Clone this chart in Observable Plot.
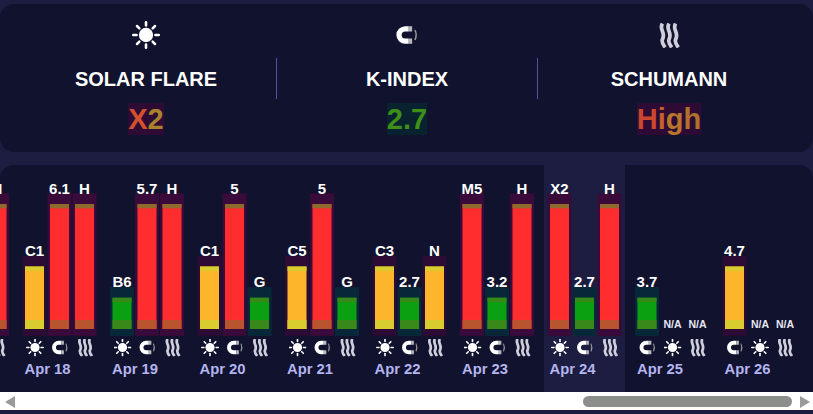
<!DOCTYPE html>
<html><head><meta charset="utf-8">
<script src="https://cdn.jsdelivr.net/npm/d3@7"></script>
<script src="https://cdn.jsdelivr.net/npm/@observablehq/plot@0.6"></script>
<style>
html,body{margin:0;padding:0;width:813px;height:414px;overflow:hidden;background:#1d1d42;font-family:"Liberation Sans",Arial,sans-serif}
#top{position:absolute;left:0;top:4px;width:813px;height:148px;background:#10122e;border-radius:14px}
.col{position:absolute;top:0;width:260px;text-align:center;color:#fff}
.col img{position:absolute;left:110px;width:40px;object-fit:contain}
.col .name{position:absolute;left:0;right:0;top:63px;font-size:20px;font-weight:700;line-height:24px;white-space:nowrap}
.col .val{position:absolute;left:0;right:0;top:99px;font-size:29px;font-weight:700;line-height:33px;white-space:nowrap}
.col .val span{background:var(--halo)}
.div{position:absolute;top:54px;width:1px;height:41px;background:#4f53a0}
#chart{position:absolute;left:0;top:165px;width:813px;height:227px;background:#10122e;border-radius:14px 14px 0 0;overflow:hidden}
#chart svg{display:block;overflow:hidden}
#bar{position:absolute;left:0;top:392px;width:813px;height:18px;background:#fff}
#thumb{position:absolute;left:583px;top:4px;width:209px;height:11px;border-radius:6px;background:#8c8e8c}
.arr{position:absolute;top:4px;width:0;height:0;border-top:6px solid transparent;border-bottom:6px solid transparent}
</style></head><body>
<div id="top"></div><div id="chart"></div>
<div id="bar"><div class="arr" style="left:5px;border-right:10px solid #9a9a9a"></div><div id="thumb"></div><div class="arr" style="left:800px;border-left:10px solid #9a9a9a"></div></div>
<script>
const days = ["Apr 17","Apr 18","Apr 19","Apr 20","Apr 21","Apr 22","Apr 23","Apr 24","Apr 25","Apr 26"];
const solarLabels = [null,"C1","B6","C1","C5","C3","M5","X2","N/A","N/A"];
const solarLevels = [null,2,1,2,2,2,4,4,0,0];
const solarSlots  = [0,0,0,0,0,0,0,0,1,1];
const kLabels = [null,"6.1","5.7","5","5","2.7","3.2","2.7","3.7","4.7"];
const kLevels = [null,4,4,4,4,1,1,1,1,2];
const kSlots  = [1,1,1,1,1,1,1,1,0,0];
const schumannLabels = ["H","H","H","G","G","N","H","H","N/A","N/A"];
const schumannLevels = [4,4,4,1,1,2,4,4,0,0];
const headerNames = ["SOLAR FLARE","K-INDEX","SCHUMANN"];
const headerIcons = ["sun","magnet","waves"];
const headerIconHeights = [28, 20, 25];
const highlightDay = "Apr 24";

const levelFill = {1:"#0aa012",2:"#fdb52b",4:"#ff2d2d"};
const capTop = {1:"#38881a",2:"#d8cc2e",4:"#8f6a2d"};
const capBottom = {1:"#38881a",2:"#d8cc2e",4:"#b9552e"};
const halo = {1:"#08283a",2:"#2c0b35",4:"#3a0a3a"};

const svgUri = s => "data:image/svg+xml," + encodeURIComponent(s);
const rays = d3.range(8).map(i => `<line x1="12" y1="2" x2="12" y2="4.6" transform="rotate(${i*45} 12 12)"/>`).join("");
const icons = {
  sun: svgUri(`<svg xmlns="http://www.w3.org/2000/svg" viewBox="1 1 22 22"><circle cx="12" cy="12" r="5.6" fill="#fff"/><g stroke="#fff" stroke-width="2" stroke-linecap="round">${rays}</g></svg>`),
  magnet: svgUri(`<svg xmlns="http://www.w3.org/2000/svg" viewBox="2 3 21 18"><path d="M14 6.500L11 6.500A5.500 5.500 0 0 0 11 17.500L14 17.500" fill="none" stroke="#fff" stroke-width="4.6"/><path d="M14 6.500L17 6.500M14 17.500L17 17.500" stroke="#b8b8c0" stroke-width="4.600"/><path d="M19.500 7.500Q21.500 12 19.500 16.500" fill="none" stroke="#999" stroke-width="1.300"/></svg>`),
  waves: svgUri(`<svg xmlns="http://www.w3.org/2000/svg" viewBox="2 1 20 22"><g fill="none" stroke="#cfcfdc" stroke-width="3.4"><path d="M6 1.500C2.500 7 9.500 9 6 15.500C5 18 7 20.500 8.500 22.500"/><path d="M12 1.500C8.500 7 15.500 9 12 15.500C11 18 13 20.500 14.500 22.500"/><path d="M18 1.500C14.500 7 21.500 9 18 15.500C17 18 19 20.500 20.500 22.500"/></g></svg>`)
};

function rows(kind, labels, levels, slots) {
  return days.map((day, i) => ({day, d: i, kind, label: labels[i], level: levels[i],
    pos: i * 3.5 + (typeof slots === "number" ? slots : slots[i])})).filter(r => r.label !== null);
}
const data = [
  ...rows("sun", solarLabels, solarLevels, solarSlots),
  ...rows("magnet", kLabels, kLevels, kSlots),
  ...rows("waves", schumannLabels, schumannLevels, 2)
];
const bars = data.filter(r => r.level > 0);
const W = 0.76;
const font = "Liberation Sans";

const chart = Plot.plot({
  width: 813, height: 227,
  marginTop: 0, marginBottom: 0, marginLeft: 0, marginRight: 0,
  style: {background: "transparent", fontFamily: font},
  x: {type: "linear", domain: [2.5, 35.02], range: [0, 813], axis: null},
  y: {type: "linear", domain: [0, 4], range: [164, 39], axis: null},
  color: {type: "identity"},
  marks: [
    Plot.rect(days.filter(d => d === highlightDay), {
      x1: d => days.indexOf(d) * 3.5 - 0.24, x2: d => days.indexOf(d) * 3.5 + 3, fill: "#1d1d42"}),
    Plot.rect(bars, {x1: d => d.pos - 0.1, x2: d => d.pos + W + 0.1, y1: d => -0.22, y2: d => d.level + 0.34, fill: d => halo[d.level]}),
    Plot.rect(bars, {x1: "pos", x2: d => d.pos + W, y1: d => 0, y2: "level", fill: d => levelFill[d.level]}),
    Plot.rect(bars, {x1: "pos", x2: d => d.pos + W, y1: d => d.level - 0.14, y2: "level", fill: d => capTop[d.level]}),
    Plot.rect(bars, {x1: "pos", x2: d => d.pos + W, y1: d => 0, y2: d => 0.29, fill: d => capBottom[d.level]}),
    Plot.text(bars, {x: d => d.pos + W / 2, y: "level", text: "label", dy: -11, dx: -0.5, lineAnchor: "bottom",
      fill: "#fff", fontWeight: 700, fontSize: 15}),
    Plot.text(data.filter(d => d.level === 0), {x: d => d.pos + W / 2, y: d => 0, text: "label", dy: -2, lineAnchor: "bottom",
      fill: "#e8e8f4", fontWeight: 700, fontSize: 10.5}),
    Plot.image(data, {x: d => d.pos + W / 2, y: d => 0, dy: 18, width: 18, height: 18, src: d => icons[d.kind]}),
    Plot.text(days.slice(1), {x: d => days.indexOf(d) * 3.5, y: d => 0, text: d => d, dy: 44, dx: -1, textAnchor: "start", lineAnchor: "bottom",
      fill: "#b4b4ee", fontWeight: 700, fontSize: 14.8})
  ]
});
document.getElementById("chart").appendChild(chart);

const topCard = document.getElementById("top");
const centers = [146, 407, 669];
const valColors = [[["X","#d4512e"],["2","#a9832c"]],[["2.7","#3f8f18"]],[["H","#cc472e"],["i","#c2602c"],["g","#b8752c"],["h","#b0712c"]]];
const valHalo = ["#2e0b35","#08222f","#2e0b35"];
headerNames.forEach((n, i) => {
  const c = document.createElement("div");
  c.className = "col"; c.style.left = (centers[i] - 130) + "px";
  c.style.setProperty("--halo", valHalo[i]);
  const im = document.createElement("img"); im.src = icons[headerIcons[i]];
  im.style.height = headerIconHeights[i] + "px"; im.style.top = (31 - headerIconHeights[i] / 2) + "px"; c.appendChild(im);
  const a = document.createElement("div"); a.className = "name"; a.textContent = n; c.appendChild(a);
  const v = document.createElement("div"); v.className = "val";
  const outer = document.createElement("span");
  valColors[i].forEach(([t, col]) => { const s = document.createElement("b"); s.textContent = t; s.style.color = col; outer.appendChild(s); });
  v.appendChild(outer); c.appendChild(v); topCard.appendChild(c);
});
[276, 537].forEach(x => { const d = document.createElement("div"); d.className = "div"; d.style.left = x + "px"; topCard.appendChild(d); });
</script>
</body></html>
